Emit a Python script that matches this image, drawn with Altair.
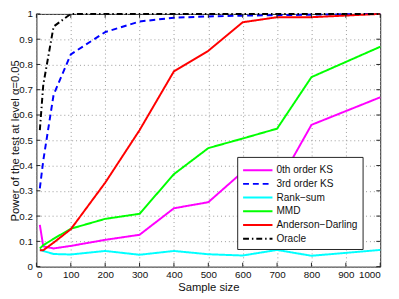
import altair as alt
import pandas as pd

sizes = [10, 20, 50, 100, 200, 300, 400, 500, 600, 700, 800, 1000]
methods = ["0th order KS", "3rd order KS", "Rank\u2212sum", "MMD", "Anderson\u2212Darling", "Oracle"]
ks0 = [0.165, 0.08, 0.072, 0.082, 0.106, 0.126, 0.231, 0.255, 0.375, 0.32, 0.561, 0.67]
ks3 = [0.31, 0.42, 0.68, 0.84, 0.928, 0.97, 0.985, 0.99, 0.993, 0.995, 0.997, 1.0]
ranksum = [0.068, 0.062, 0.05, 0.048, 0.062, 0.047, 0.062, 0.049, 0.044, 0.066, 0.043, 0.066]
mmd = [0.072, 0.085, 0.11, 0.15, 0.189, 0.209, 0.366, 0.469, 0.507, 0.546, 0.75, 0.87]
ad = [0.065, 0.065, 0.095, 0.148, 0.332, 0.54, 0.773, 0.854, 0.967, 0.987, 0.987, 1.0]
oracle = [0.54, 0.72, 0.95, 1.0, 1.0, 1.0, 1.0, 1.0, 1.0, 1.0, 1.0, 1.0]
colors = ["#ff00ff", "#0000ff", "#00ffff", "#00ff00", "#ff0000", "#000000"]
dashes = [[1, 0], [6, 4], [1, 0], [1, 0], [1, 0], [6, 3, 1.5, 3]]
xticks = list(range(0, 1001, 100))
yticks = [i / 10 for i in range(11)]

series = [ks0, ks3, ranksum, mmd, ad, oracle]
rows = []
for m, vals in zip(methods, series):
    for n, v in zip(sizes, vals):
        rows.append({"n": n, "power": v, "method": m})
df = pd.DataFrame(rows)

W, H = 351, 258
FONT = "Liberation Sans"

xscale = alt.Scale(domain=[0, 1000], nice=False)
yscale = alt.Scale(domain=[0, 1], nice=False)
xaxis = alt.Axis(values=xticks, title="Sample size", format="d")
yaxis = alt.Axis(values=yticks, title="Power of the test at level \u03b1=0.05", format="~g")

legend = alt.Legend(
    title=None, orient="none", legendX=205, legendY=146,
    strokeColor="#222", fillColor="white", padding=5,
    labelFont=FONT, labelFontSize=10.3, labelColor="#111",
    symbolType="M-1,0H3", symbolSize=225, symbolStrokeWidth=2,
    symbolFillColor="transparent",
    labelOffset=18, rowPadding=0,
)

lines = alt.Chart(df).mark_line(strokeWidth=2).encode(
    x=alt.X("n:Q", scale=xscale, axis=xaxis),
    y=alt.Y("power:Q", scale=yscale, axis=yaxis),
    color=alt.Color("method:N", scale=alt.Scale(domain=methods, range=colors), sort=methods, legend=legend),
    strokeDash=alt.StrokeDash("method:N", scale=alt.Scale(domain=methods, range=dashes), sort=methods, legend=legend),
    order=alt.Order("n:Q"),
)

xt = pd.DataFrame({"n": xticks})
yt = pd.DataFrame({"power": yticks})
tick_style = dict(color="#222", strokeWidth=1)
xb = alt.Chart(xt).mark_rule(**tick_style).encode(x=alt.X("n:Q", scale=xscale, axis=xaxis), y=alt.value(H), y2=alt.value(H - 4))
xtp = alt.Chart(xt).mark_rule(**tick_style).encode(x=alt.X("n:Q", scale=xscale, axis=xaxis), y=alt.value(0), y2=alt.value(4))
yl = alt.Chart(yt).mark_rule(**tick_style).encode(y=alt.Y("power:Q", scale=yscale, axis=yaxis), x=alt.value(0), x2=alt.value(4))
yr = alt.Chart(yt).mark_rule(**tick_style).encode(y=alt.Y("power:Q", scale=yscale, axis=yaxis), x=alt.value(W), x2=alt.value(W - 4))

chart = alt.layer(lines, xb, xtp, yl, yr).properties(
    width=W, height=H,
    autosize=alt.AutoSizeParams(type="none"),
    padding={"left": 29, "top": 3, "right": 11, "bottom": 30},
).configure_view(
    stroke="#222", strokeWidth=1
).configure_axis(
    labelFont=FONT, titleFont=FONT, labelFontSize=10, titleFontSize=11.5,
    labelColor="#111", titleColor="#111", titleFontWeight="normal",
    ticks=False, domain=False, labelOverlap=False, labelBound=False,
    grid=True, gridColor="#999", gridDash=[1, 3], gridWidth=1, gridOpacity=1,
).configure_axisX(
    labelPadding=3, titlePadding=2,
).configure_axisY(
    labelPadding=4, titlePadding=-2,
)

chart.save("out.html", embed_options={"renderer": "svg", "actions": False})
